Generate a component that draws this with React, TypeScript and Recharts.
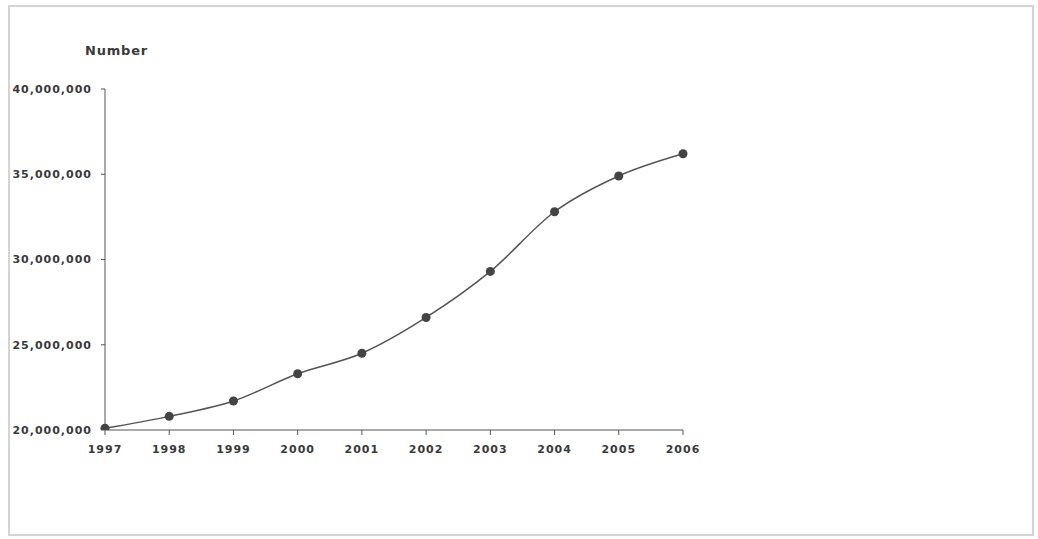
import React from 'react';
import { LineChart, Line, XAxis, YAxis } from 'recharts';

const years = ['1997', '1998', '1999', '2000', '2001', '2002', '2003', '2004', '2005', '2006'];
const counts = [20100000, 20800000, 21700000, 23300000, 24500000, 26600000, 29300000, 32800000, 34900000, 36200000];
const yTicks = [20000000, 25000000, 30000000, 35000000, 40000000];

const data = years.map((year, i) => ({ year, value: counts[i] }));

const fmt = (v: number) => v.toLocaleString('en-US');

const tickStyle = {
  fontFamily: '"DejaVu Sans", Arial, sans-serif',
  fontSize: 11,
  fontWeight: 700,
  fill: '#3a3a3a',
  letterSpacing: 1,
};

export default function App() {
  return (
    <div style={{ position: 'absolute', left: 0, top: 0, width: 1038, height: 539, background: '#fff' }}>
      <div
        style={{
          position: 'absolute',
          left: 8,
          top: 5,
          width: 1026,
          height: 531,
          border: '2px solid #d4d4d4',
          boxSizing: 'border-box',
        }}
      />
      <div
        style={{
          position: 'absolute',
          left: 85,
          top: 43,
          fontFamily: '"DejaVu Sans", Arial, sans-serif',
          fontSize: 13,
          fontWeight: 700,
          color: '#3a3a3a',
          letterSpacing: 0.8,
        }}
      >
        Number
      </div>
      <div style={{ position: 'absolute', left: 0, top: 0 }}>
        <LineChart width={1038} height={539} data={data} margin={{ top: 89, right: 355, bottom: 0, left: 0 }}>
          <XAxis
            dataKey="year"
            padding={{ left: 0, right: 0 }}
            tick={tickStyle}
            tickSize={5}
            tickMargin={10}
            stroke="#555"
            height={109}
            interval={0}
          />
          <YAxis
            domain={[20000000, 40000000]}
            ticks={yTicks}
            tickFormatter={fmt}
            tick={tickStyle}
            tickSize={4}
            tickMargin={9}
            stroke="#555"
            width={105}
            allowDataOverflow
          />
          <Line
            type="monotone"
            dataKey="value"
            stroke="#555"
            strokeWidth={1.5}
            dot={{ r: 4.5, fill: '#444', stroke: 'none' }}
            isAnimationActive={false}
          />
        </LineChart>
      </div>
    </div>
  );
}
